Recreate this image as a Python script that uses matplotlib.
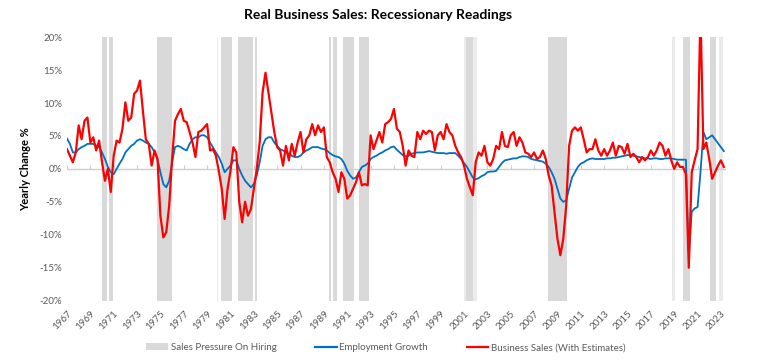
import numpy as np
import pandas as pd
import matplotlib
matplotlib.use("Agg")
import matplotlib.pyplot as plt
from matplotlib.patches import Patch
from matplotlib.lines import Line2D

plt.rcParams["font.family"] = ["Lato", "DejaVu Sans"]

# quarterly readings, first quarter 1967 .. second quarter 2023
start_year = 1967
sales = [
    3.0, 2.0, 1.0, 2.5,  6.6, 4.5, 7.3, 7.8,  4.0, 4.8, 2.8, 4.3,
    1.0, -1.8, 0.0, -3.5,  2.0, 4.3, 4.0, 6.1,  10.1, 7.3, 7.8, 11.4,
    11.9, 13.4, 8.8, 4.5,  3.8, 0.5, 2.8, 1.5,  -7.1, -10.4, -9.6, -5.6,
    1.5, 7.3, 8.3, 9.1,  7.3, 7.1, 5.6, 4.0,  1.8, 5.6, 5.8, 6.3,
    6.8, 2.8, 3.0, 2.0,  -0.3, -3.0, -7.6, -3.0,  -0.3, 3.3, 2.5, -5.0,
    -8.1, -5.0, -7.1, -6.1,  -3.0, 0.0, 4.0, 11.6,  14.6, 11.6, 8.6, 5.6,
    3.3, 2.8, 0.5, 3.5,  1.3, 3.8, 2.0, 4.0,  5.6, 2.5, 4.5, 5.1,
    6.8, 5.1, 6.6, 5.6,  6.3, 1.8, 1.0, -0.5,  -1.5, -3.5, -0.5, -1.5,
    -4.5, -4.0, -3.0, -2.0,  -0.5, -2.5, -2.3, -2.5,  5.1, 3.0, 4.3, 5.6,
    4.0, 6.8, 7.1, 7.6,  9.1, 6.1, 5.6, 3.5,  0.5, 2.8, 2.0, 1.8,
    5.6, 4.5, 5.8, 5.3,  5.8, 5.6, 2.8, 5.1,  5.6, 4.5, 6.8, 5.6,
    5.1, 3.5, 2.5, 1.8,  0.5, -1.5, -2.8, -4.0,  1.0, 2.5, 2.0, 3.5,
    1.0, 0.5, 1.5, 3.5,  3.0, 5.6, 3.5, 3.3,  5.1, 5.6, 3.5, 4.8,
    4.0, 2.5, 2.3, 1.8,  2.5, 1.5, 1.8, 2.8,  1.5, -1.0, -2.5, -6.6,
    -10.6, -13.1, -10.6, -5.6,  3.5, 5.8, 6.3, 5.8,  6.3, 4.5, 2.5, 3.0,
    3.0, 4.5, 2.8, 2.0,  3.0, 2.0, 2.8, 4.0,  2.0, 3.5, 3.3, 2.3,
    3.8, 1.8, 2.3, 1.8,  1.0, 1.8, 1.3, 1.8,  2.8, 2.0, 2.8, 4.0,
    3.5, 2.0, 3.0, 1.3,  0.0, 1.0, 0.3, 0.3,  -0.8, -15.0, -0.5, 1.3,
    3.0, 24.0, 3.0, 4.0,  1.5, -1.5, -0.5, 0.5,  1.3, 0.3,
]
employment = [
    4.6, 3.8, 2.5, 2.5,  3.0, 3.3, 3.5, 3.8,  3.8, 3.8, 3.5, 3.3,
    2.5, 1.5, 0.3, -0.5,  -0.8, 0.0, 0.8, 1.5,  2.5, 3.0, 3.5, 3.8,
    4.3, 4.5, 4.3, 4.0,  3.8, 3.3, 2.5, 1.5,  -0.5, -2.3, -2.8, -1.8,
    1.0, 3.3, 3.5, 3.3,  3.0, 2.8, 3.8, 4.5,  4.8, 4.8, 5.1, 5.1,
    4.8, 4.0, 3.3, 2.5,  1.8, 0.8, -0.5, 0.0,  0.5, 1.3, 1.3, 0.0,
    -1.0, -1.8, -2.3, -2.8,  -2.3, -1.0, 1.0, 3.5,  4.5, 4.8, 4.8, 4.0,
    3.5, 3.0, 2.8, 2.5,  2.3, 2.0, 1.8, 1.8,  2.0, 2.5, 2.8, 3.0,
    3.3, 3.3, 3.3, 3.1,  3.0, 2.8, 2.4, 2.1,  1.9, 1.8, 1.5, 0.8,
    -0.3, -1.0, -1.5, -1.3,  -0.5, 0.3, 0.5, 0.8,  1.5, 1.8, 2.0, 2.3,
    2.5, 2.8, 3.0, 3.3,  3.4, 2.9, 2.5, 2.1,  1.9, 2.0, 2.3, 2.4,
    2.5, 2.5, 2.5, 2.6,  2.7, 2.6, 2.5, 2.4,  2.4, 2.4, 2.3, 2.4,
    2.4, 2.4, 2.0, 1.5,  0.9, 0.3, -0.5, -1.3,  -1.6, -1.4, -1.1, -0.9,
    -0.5, -0.4, -0.4, -0.3,  0.3, 0.9, 1.3, 1.4,  1.5, 1.6, 1.6, 1.8,
    1.9, 1.9, 1.8, 1.5,  1.4, 1.3, 1.2, 1.1,  0.8, 0.3, -0.5, -1.5,
    -3.0, -4.5, -5.0, -4.8,  -3.0, -1.3, -0.5, 0.3,  0.8, 1.0, 1.3, 1.5,
    1.6, 1.5, 1.5, 1.5,  1.5, 1.6, 1.6, 1.7,  1.7, 1.8, 1.9, 2.0,
    2.1, 2.1, 2.0, 1.9,  1.8, 1.7, 1.6, 1.6,  1.5, 1.6, 1.6, 1.5,
    1.5, 1.6, 1.6, 1.6,  1.5, 1.4, 1.4, 1.4,  1.4, -13.3, -6.5, -6.0,
    -5.8, -0.5, 5.6, 4.5,  4.8, 5.1, 4.5, 3.9,  3.3, 2.7,
]

# periods where sales pressure on hiring is flagged
pressure_start = [1969.97, 1970.60, 1974.71, 1980.20, 1981.65, 1983.10,
                  1989.45, 1989.80, 1990.60, 1992.00, 2001.20, 2008.20,
                  2019.76, 2022.10]
pressure_end = [1970.40, 1970.94, 1975.97, 1981.14, 1982.96, 1983.30,
                1989.62, 1990.10, 1991.60, 1992.90, 2001.80, 2009.80,
                2020.36, 2022.60]
faint_start = [1979.88, 2000.96, 2018.84, 2022.80]
faint_end = [1979.95, 2002.10, 2019.04, 2023.15]

tick_years = list(range(1967, 2024, 2))

years = start_year + np.arange(len(sales)) * 0.25

fig = plt.figure(figsize=(7.57, 3.64), dpi=100)
ax = fig.add_axes([0.0885, 0.174, 0.870, 0.724])

grey = "#d9d9d9"
for s, e in zip(faint_start, faint_end):
    ax.axvspan(s, e, color="#ebebeb", lw=0, zorder=0)
for s, e in zip(pressure_start, pressure_end):
    ax.axvspan(s, e, color=grey, lw=0, zorder=1)

# zero line (category axis crossing at 0)
ax.axhline(0, color="#cfcfcf", lw=1.0, zorder=2)

ax.plot(years, employment, color="#0070c0", lw=1.3, zorder=3)
ax.plot(years, sales, color="#ff0000", lw=1.6, zorder=4)

ax.set_xlim(1967, 2023.4)
ax.set_ylim(-20, 20)
ax.set_yticks(range(-20, 21, 5))
ax.set_yticklabels([f"{v}%" for v in range(-20, 21, 5)])
ax.set_xticks(tick_years)
ax.set_xticklabels([str(y) for y in tick_years], rotation=45, ha="right",
                   rotation_mode="anchor")
ax.tick_params(axis="both", length=0, labelsize=7, colors="#595959")
ax.tick_params(axis="x", pad=6)
for sp in ax.spines.values():
    sp.set_visible(False)

# small tick marks hanging from the zero line
zero = ax.secondary_xaxis(0.5)
zero.set_xticks(tick_years)
zero.set_xticklabels([])
zero.tick_params(length=3, color="#cfcfcf", direction="out")
for sp in zero.spines.values():
    sp.set_visible(False)

ax.set_ylabel("Yearly Change %", fontsize=8, fontweight="bold", labelpad=6)
fig.suptitle("Real Business Sales: Recessionary Readings", fontsize=10,
             fontweight="bold", y=0.975)

handles = [
    Patch(facecolor=grey, edgecolor="none"),
    Line2D([], [], color="#0070c0", lw=1.6),
    Line2D([], [], color="#ff0000", lw=1.6),
]
labels = ["Sales Pressure On Hiring", "Employment Growth",
          "Business Sales (With Estimates)"]
fig.legend(handles, labels, loc="center", bbox_to_anchor=(0.51, 0.045), ncol=3,
           frameon=False, fontsize=7, handlelength=2.2, handletextpad=0.3,
           columnspacing=4.0, labelcolor="#595959")

fig.savefig("out.png", dpi=100)
